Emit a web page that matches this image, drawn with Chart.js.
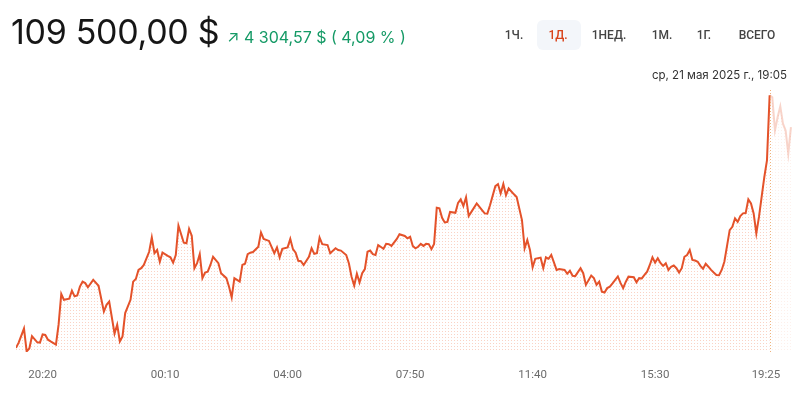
<!DOCTYPE html>
<html lang="ru">
<head>
<meta charset="utf-8">
<script src="https://cdn.jsdelivr.net/npm/chart.js@4.4.1/dist/chart.umd.min.js"></script>
<style>
  body { margin: 0; background: #fff; font-family: Inter, Roboto, sans-serif; }
  #wrap { position: relative; width: 800px; height: 394px; overflow: hidden; }
  #price-chart { position: absolute; left: 0; top: 0; }
  .price { position: absolute; left: 11px; top: 11px; font-size: 34px; color: #161616; letter-spacing: -0.3px; }
  .change { position: absolute; left: 227px; top: 27px; font-size: 16px; color: #159a66; }
  .tabs span { position: absolute; top: 28px; font-family: Roboto, sans-serif; font-size: 12px; font-weight: 500; color: #444; transform: translateX(-50%); }
  .tabs .active { color: #d8431b; }
  .tab-bg { position: absolute; left: 537px; top: 20px; width: 44px; height: 30px; border-radius: 6px; background: #f3f6fa; }
  .stamp { position: absolute; right: 13px; top: 68px; font-size: 11.5px; color: #333; }
</style>
</head>
<body>
<div id="wrap">
  <canvas id="price-chart" width="800" height="394"></canvas>
  <div class="price">109 500,00 $</div>
  <div class="change">&#8599; 4 304,57 $ ( 4,09 % )</div>
  <div class="tab-bg"></div>
  <div class="tabs">
    <span style="left:514px">1Ч.</span>
    <span class="active" style="left:558px">1Д.</span>
    <span style="left:609px">1НЕД.</span>
    <span style="left:662px">1М.</span>
    <span style="left:704px">1Г.</span>
    <span style="left:757px">ВСЕГО</span>
  </div>
  <div class="stamp">ср, 21 мая 2025 г., 19:05</div>
</div>
<script>
// BTC price, 5-10 min samples, 20-21 May
const times = [
  '19:30','19:35','19:45','19:50','19:55','20:00','20:10','20:15','20:20','20:25','20:30','20:35','20:45','20:50','20:55',
  '21:00','21:10','21:15','21:20','21:25','21:30','21:35','21:40','21:45','21:55','22:05','22:15','22:20','22:25','22:35',
  '22:40','22:45','22:50','22:55','23:05','23:10','23:15','23:20','23:25','23:30','23:40','23:45','23:50','23:55',
  '00:00','00:05','00:15','00:20','00:25','00:30','00:35','00:45','00:50','00:55','01:00','01:05','01:10','01:15','01:20',
  '01:25','01:30','01:35','01:40','01:50','01:55','02:05','02:10','02:15','02:20','02:25','02:30','02:35','02:40','02:45',
  '02:50','02:55','03:05','03:10','03:15','03:25','03:35','03:40','03:45','03:50','04:00','04:05','04:10','04:15','04:20',
  '04:25','04:30','04:40','04:45','04:50','04:55','05:00','05:05','05:15','05:20','05:30','05:35','05:40','05:50','05:55',
  '06:00','06:05','06:10','06:15','06:20','06:25','06:30','06:35','06:40','06:45','06:50','07:00','07:05','07:10','07:15',
  '07:25','07:30','07:40','07:45','07:50','07:55','08:00','08:05','08:10','08:15','08:20','08:25','08:30','08:35','08:40',
  '08:45','08:50','08:55','09:00','09:05','09:15','09:20','09:25','09:30','09:35','09:40','09:45','09:55','10:05','10:10',
  '10:15','10:20','10:30','10:35','10:40','10:45','10:50','10:55','11:05','11:10','11:20','11:25','11:30','11:35','11:40',
  '11:45','11:55','12:00','12:05','12:10','12:15','12:25','12:30','12:40','12:45','12:50','12:55','13:00','13:10','13:15',
  '13:20','13:30','13:35','13:40','13:45','13:50','13:55','14:00','14:05','14:10','14:20','14:25','14:30','14:35','14:40',
  '14:50','14:55','15:00','15:05','15:10','15:15','15:20','15:25','15:30','15:35','15:40','15:45','15:50','15:55','16:00',
  '16:05','16:10','16:15','16:20','16:25','16:30','16:35','16:40','16:45','16:50','16:55','17:00','17:05','17:10','17:15',
  '17:20','17:25','17:30','17:35','17:40','17:50','17:55','18:00','18:05','18:10','18:15','18:20','18:25','18:30','18:35',
  '18:40','18:45','18:50','18:55','19:00','19:05','19:10','19:15','19:20','19:25','19:30','19:35','19:40','19:45'
];
const prices = [
  105190,105280,105520,105130,105180,105390,105285,105280,105420,105410,105330,105300,105245,105590,106110,
  106010,106030,106165,106070,106085,106235,106320,106295,106225,106350,106250,105810,105925,105980,105435,
  105585,105300,105385,105785,106010,106320,106365,106520,106550,106605,106830,107075,106805,106860,
  106660,106815,106760,106735,106645,106775,107275,106985,106975,107220,107105,106550,106635,106790,106380,
  106475,106490,106605,106745,106635,106465,106380,106235,106050,106380,106350,106320,106605,106625,106790,
  106815,106825,106915,107160,107050,107015,106805,106905,106735,106880,106905,107050,106875,106815,106675,
  106670,106605,106745,106890,106795,106805,107070,106960,106945,106805,106890,106860,106850,106775,106635,
  106405,106255,106455,106305,106465,106535,106830,106850,106790,106775,106945,106880,106965,106960,106930,
  107050,107130,107100,107060,107085,106930,106890,106915,106965,106930,106965,106960,106875,106965,107580,
  107570,107410,107330,107340,107510,107495,107665,107725,107610,107760,107440,107510,107655,107540,107485,
  107480,107625,107950,107985,107825,107985,107795,107910,107810,107765,107370,106890,107030,106860,106565,
  106710,106730,106550,106735,106710,106775,106520,106535,106520,106455,106505,106420,106415,106550,106465,
  106265,106425,106380,106265,106320,106150,106135,106210,106235,106290,106410,106300,106210,106320,106405,
  106395,106310,106380,106375,106435,106490,106605,106735,106645,106720,106640,106590,106635,106520,106575,
  106595,106550,106475,106550,106745,106775,106860,106690,106680,106660,106590,106540,106625,106575,106520,
  106475,106435,106430,106520,106660,107200,107255,107400,107340,107440,107485,107490,107725,107655,107485,
  107145,107425,107765,108105,108390,109500,109465,108900,109125,109310,109015,108900,108505,108955
];
const tickLabels = ['20:20','00:10','04:00','07:50','11:40','15:30','19:25'];
const hoverLabel = '19:05';

// minutes since the first sample, rolling over midnight
function toMinutes(list) {
  let prev = -1, day = 0, out = [];
  const base = +list[0].slice(0, 2) * 60 + +list[0].slice(3);
  for (const t of list) {
    let m = +t.slice(0, 2) * 60 + +t.slice(3) + day;
    if (m < prev) { day += 1440; m += 1440; }
    prev = m;
    out.push(m - base);
  }
  return out;
}
const startMin = +times[0].slice(0, 2) * 60 + +times[0].slice(3);
const xs = toMinutes(times);
const tickXs = toMinutes([times[0]].concat(tickLabels));
const hoverX = xs[times.lastIndexOf(hoverLabel)];

function fmt(m) {
  const a = (m + startMin) % 1440;
  return String(Math.floor(a / 60)).padStart(2, '0') + ':' + String(a % 60).padStart(2, '0');
}

// dotted fill
function dots(color) {
  const c = document.createElement('canvas');
  c.width = 3; c.height = 3;
  const g = c.getContext('2d');
  g.fillStyle = color;
  g.fillRect(1, 1, 1, 1);
  return g.createPattern(c, 'repeat');
}
const fillOn = dots('rgba(240,130,90,0.35)');
const fillOff = dots('rgba(240,130,90,0.12)');
const lineOn = '#e4522a';
const lineOff = 'rgba(228,82,42,0.25)';

const hoverLine = {
  id: 'hoverLine',
  afterDatasetsDraw(chart) {
    const x = chart.scales.x.getPixelForValue(hoverX);
    const ctx = chart.ctx, a = chart.chartArea;
    ctx.save();
    ctx.strokeStyle = 'rgba(236,170,110,0.9)';
    ctx.lineWidth = 1;
    ctx.setLineDash([1, 2]);
    ctx.beginPath();
    ctx.moveTo(Math.round(x) + 0.5, a.top);
    ctx.lineTo(Math.round(x) + 0.5, a.bottom);
    ctx.stroke();
    ctx.restore();
  }
};

let ctx = document.getElementById('price-chart').getContext('2d');
let chart = new Chart(ctx, {
  type: 'line',
  data: {
    datasets: [{
      data: xs.map((x, i) => ({ x: x, y: prices[i] })),
      borderColor: lineOn,
      borderWidth: 2,
      backgroundColor: fillOn,
      fill: 'start',
      pointRadius: 0,
      tension: 0,
      segment: {
        borderColor: c => c.p0.parsed.x >= hoverX ? lineOff : lineOn,
        backgroundColor: c => c.p0.parsed.x >= hoverX ? fillOff : fillOn
      }
    }]
  },
  options: {
    responsive: false,
    devicePixelRatio: 1,
    animation: false,
    layout: { padding: { left: 12, right: 8, top: 90, bottom: 0 } },
    plugins: { legend: { display: false }, tooltip: { enabled: false } },
    scales: {
      x: {
        type: 'linear',
        min: 0,
        max: 1457,
        grid: { display: false, drawTicks: false },
        border: { display: false },
        afterBuildTicks: s => { s.ticks = tickXs.map(v => ({ value: v })); },
        afterFit: s => { s.height = 42; },
        ticks: {
          autoSkip: false,
          maxRotation: 0,
          align: 'inner',
          padding: 16,
          color: '#6b6b6b',
          font: { family: 'Roboto', size: 11.5 },
          callback: (v, i) => i === 0 ? '' : fmt(v)
        }
      },
      y: { display: false, min: 105120, max: 109590 }
    }
  },
  plugins: [hoverLine]
});
</script>
</body>
</html>
